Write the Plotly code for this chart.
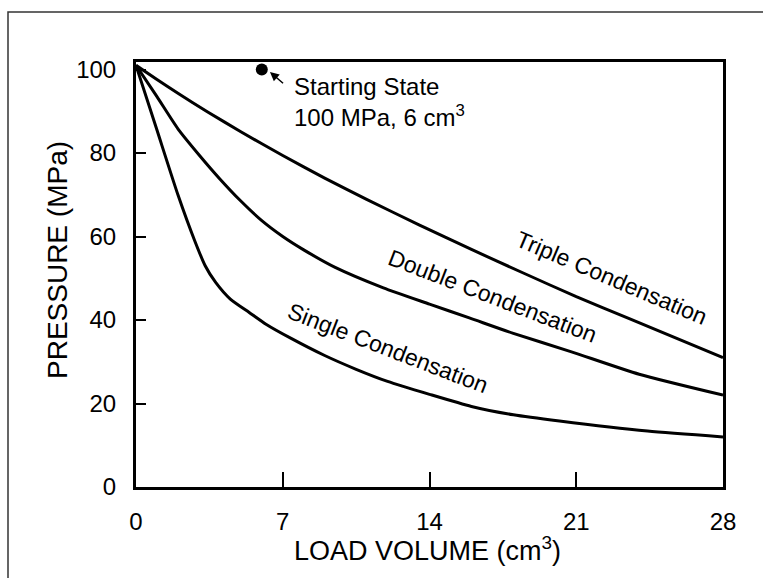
import plotly.graph_objects as go

# ---- data ----
triple_x = [0, 1, 2, 3.4, 5, 7, 9, 11, 13.5, 16, 18.5, 21, 23.5, 28]
triple_y = [101, 97.6, 94.3, 89.9, 85.1, 79.4, 74, 68.9, 62.8, 56.9, 51.2, 45.6, 40.4, 31]

double_x = [0, 1, 2, 3, 4, 5, 6, 7, 8, 9.5, 11.8, 14, 15.9, 18, 20.7, 24, 28]
double_y = [101, 93.5, 85.8, 79.6, 73.8, 68.5, 63.8, 60, 56.8, 52.6, 47.7, 43.8, 40.5, 36.8, 32.5, 27, 22]

single_x = [0, 1, 2, 2.8, 3.3, 3.8, 4.5, 5.4, 6.2, 7.4, 9, 10.5, 12, 14, 16, 18, 20.2, 24.4, 28]
single_y = [101, 85.5, 70, 59, 53, 49, 45, 41.8, 39, 35.6, 31.5, 28.2, 25.3, 22.2, 19.3, 17.3, 15.8, 13.4, 12]

start_x = [6]
start_y = [100]

x_ticks = [0, 7, 14, 21, 28]
y_ticks = [0, 20, 40, 60, 80, 100]

labels = ["Triple Condensation", "Double Condensation", "Single Condensation"]

FONT = "Liberation Sans, Arial, Helvetica, sans-serif"

fig = go.Figure()
for xs, ys in [(triple_x, triple_y), (double_x, double_y), (single_x, single_y)]:
    fig.add_trace(go.Scatter(x=xs, y=ys, mode="lines",
                             line=dict(color="black", width=3, shape="spline", smoothing=0.6),
                             showlegend=False, hoverinfo="skip"))
fig.add_trace(go.Scatter(x=start_x, y=start_y, mode="markers",
                         marker=dict(color="black", size=12), showlegend=False,
                         cliponaxis=False, hoverinfo="skip"))

W, H = 763, 578
L, R, T, B = 136, 40, 62, 91

fig.update_layout(
    width=W, height=H,
    margin=dict(l=L, r=R, t=T, b=B, pad=0),
    paper_bgcolor="white", plot_bgcolor="white",
    font=dict(family=FONT, color="black"),
)
fig.update_xaxes(range=[0, 28], tickvals=x_ticks, ticktext=[str(v) for v in x_ticks],
                 ticks="inside", ticklen=15, tickwidth=2, tickcolor="black",
                 showline=True, linecolor="black", linewidth=3, mirror=True,
                 showgrid=False, zeroline=False,
                 tickfont=dict(size=24, family=FONT), ticklabelstandoff=11)
fig.update_yaxes(range=[0, 101.8], tickvals=y_ticks, ticktext=[str(v) for v in y_ticks],
                 ticks="inside", ticklen=10, tickwidth=2, tickcolor="black",
                 showline=True, linecolor="black", linewidth=3, mirror=True,
                 showgrid=False, zeroline=False,
                 tickfont=dict(size=24, family=FONT), ticklabelstandoff=12)

ann = []
# axis titles
ann.append(dict(text="LOAD VOLUME (cm<sup>3</sup>)", xref="paper", yref="paper",
                x=0.4966, y=(487 - 549) / 425, xanchor="center", yanchor="middle",
                showarrow=False, font=dict(size=27, family=FONT)))
ann.append(dict(text="PRESSURE (MPa)", xref="paper", yref="paper",
                x=(57 - 136) / 587, y=(487 - 260) / 425, xanchor="center", yanchor="middle",
                textangle=-90, showarrow=False, font=dict(size=28, family=FONT)))
# starting state note
ann.append(dict(text="Starting State<br>100 MPa, 6 cm<sup>3</sup>", x=7.44, y=92.3,
                xanchor="left", yanchor="middle", align="left", showarrow=False,
                font=dict(size=24, family=FONT)))
ann.append(dict(text=" ", x=6.39, y=99.4, ax=7.11, ay=96.3, axref="x", ayref="y",
                showarrow=True, arrowhead=2, arrowsize=1.2, arrowwidth=1.5,
                arrowcolor="black", font=dict(size=2)))
# curve labels
for txt, cx, cy, ang in [(labels[0], 22.7, 50.0, 23),
                         (labels[1], 17.0, 45.8, 21),
                         (labels[2], 12.0, 33.4, 21)]:
    ann.append(dict(text=txt, x=cx, y=cy, xanchor="center", yanchor="middle",
                    textangle=ang, showarrow=False,
                    font=dict(size=23, family=FONT)))
fig.update_layout(annotations=ann)

# outer frame of the figure
fig.add_shape(type="rect", xref="paper", yref="paper",
              x0=(8 - 136) / 587, x1=(780 - 136) / 587,
              y0=(487 - 600) / 425, y1=(487 - 12) / 425,
              line=dict(color="#333333", width=1.5), layer="below")

fig.write_html("out.html")
